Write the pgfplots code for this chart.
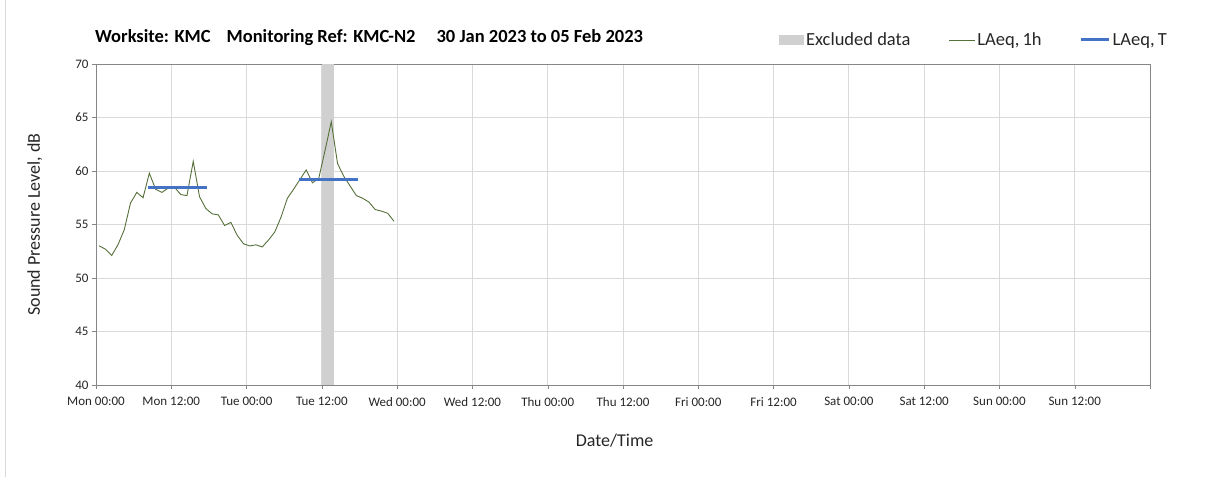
\documentclass[border=0pt]{standalone}
\usepackage{fontspec}
\setmainfont{Carlito}
\usepackage{pgfplots}
\pgfplotsset{compat=1.18}
\definecolor{olivel}{HTML}{56703A}
\definecolor{blueT}{HTML}{4472C4}
\definecolor{excl}{HTML}{D0D0D0}
\definecolor{gridc}{HTML}{D9D9D9}
\definecolor{axc}{HTML}{868686}
\definecolor{txt}{HTML}{262626}

% hourly LAeq,1h, plotted at mid-hour (hours from Mon 00:00)
\pgfplotstableread{
h    L
0.5  53.0
1.5  52.7
2.5  52.1
3.5  53.1
4.5  54.5
5.5  57.0
6.5  58.0
7.5  57.5
8.5  59.8
9.5  58.3
10.5 58.0
11.5 58.4
12.5 58.5
13.5 57.8
14.5 57.7
15.5 60.9
16.5 57.6
17.5 56.5
18.5 56.0
19.5 55.9
20.5 54.9
21.5 55.2
22.5 54.0
23.5 53.2
24.5 53.0
25.5 53.1
26.5 52.9
27.5 53.55
28.5 54.3
29.5 55.7
30.5 57.45
31.5 58.3
32.5 59.2
33.5 60.1
34.5 58.9
35.5 59.3
36.5 61.9
37.5 64.6
38.5 60.7
39.5 59.5
40.5 58.6
41.5 57.7
42.5 57.45
43.5 57.1
44.5 56.4
45.5 56.25
46.5 56.05
47.5 55.3
}\hourly

\begin{document}
\begin{tikzpicture}[x=1pt,y=1pt]
\useasboundingbox (0pt,0pt) rectangle (1208pt,477pt);
\draw[gridc] (5pt,0pt) -- (5pt,477pt);
\node[anchor=base west, inner sep=0pt, font=\bfseries\fontsize{18.5}{21}\selectfont] at (95pt,434pt)
  {Worksite: KMC\hspace{16pt}Monitoring Ref: KMC-N2\hspace{21pt}30 Jan 2023 to 05 Feb 2023};
\begin{axis}[
  at={(96pt,92pt)}, anchor=south west,
  scale only axis, width=1054pt, height=321pt,
  xmin=0, xmax=168, ymin=40, ymax=70,
  xtick={0,12,...,168},
  xticklabels={Mon 00:00,Mon 12:00,Tue 00:00,Tue 12:00,Wed 00:00,Wed 12:00,
    Thu 00:00,Thu 12:00,Fri 00:00,Fri 12:00,Sat 00:00,Sat 12:00,
    Sun 00:00,Sun 12:00,{}},
  ytick={40,45,...,70},
  /pgf/number format/assume math mode=true,
  grid=major, major grid style={gridc, line width=0.8pt},
  axis line style={axc},
  tick style={axc},
  tick align=outside, tick pos=left,
  major tick length=4pt,
  ticklabel style={font=\fontsize{13}{15}\selectfont, text=txt},
  xticklabel style={yshift=-5pt},
  xlabel={Date/Time}, ylabel={Sound Pressure Level, dB},
  label style={font=\fontsize{18}{20}\selectfont, text=txt},
  xlabel style={at={(axis description cs:0.492,-0.1745)}, anchor=center},
  ylabel style={at={(axis description cs:-0.058,0.5)}, anchor=center},
  legend columns=3,
  legend style={at={(1.018,1.0748)}, anchor=east, draw=none, fill=none,
    font=\fontsize{18.5}{20}\selectfont, text=txt, inner sep=0pt,
    /tikz/every even column/.append style={column sep=36pt}},
]
\addplot[fill=excl, draw=none,
  legend image code/.code={\fill[excl] (0pt,-5pt) rectangle (25pt,5pt);}]
  coordinates {(36,40) (36,70) (38,70) (38,40)};
\addlegendentry{Excluded data}
\addplot[olivel, line width=0.9pt,
  legend image code/.code={\draw[olivel, line width=0.9pt] (0pt,0pt) -- (26pt,0pt);}]
  table[x=h, y=L] {\hourly};
\addlegendentry{LAeq,\,1h}
\addplot[blueT, line width=3pt,
  legend image code/.code={\draw[blueT, line width=3pt] (0pt,0pt) -- (28pt,0pt);}]
  coordinates {(8.3,58.5) (17.7,58.5)};
\addlegendentry{LAeq,\,T}
\addplot[blueT, line width=3pt, forget plot]
  coordinates {(32.3,59.25) (41.7,59.25)};
\end{axis}
\end{tikzpicture}
\end{document}
